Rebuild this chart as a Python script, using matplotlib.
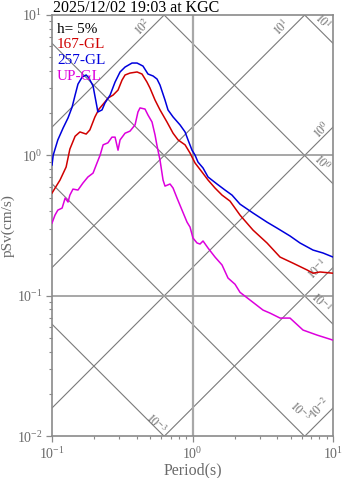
import numpy as np
import matplotlib
matplotlib.use("Agg")
import matplotlib.pyplot as plt
from matplotlib.ticker import LogLocator, NullFormatter

plt.rcParams["font.family"] = "serif"
plt.rcParams["font.serif"] = ["Liberation Serif", "DejaVu Serif"]
plt.rcParams["mathtext.fontset"] = "stix"

# --- data (period in s, pSv in cm/s) ---
title = "2025/12/02 19:03 at KGC"
damping = "h= 5%"

t_257 = [0.100, 0.102, 0.110, 0.120, 0.130, 0.139, 0.146, 0.153, 0.164, 0.175,
         0.183, 0.196, 0.202, 0.209, 0.212, 0.227, 0.238, 0.259, 0.281, 0.305,
         0.331, 0.371, 0.403, 0.444, 0.482, 0.524, 0.559, 0.587, 0.637, 0.669,
         0.727, 0.815, 0.885, 0.929, 0.992, 1.042, 1.094, 1.188, 1.290, 1.494,
         1.704, 1.910, 2.178, 2.696, 3.391, 3.994, 4.943, 5.823, 7.204, 8.488, 10.0]
sv_257 = [0.855, 1.006, 1.29, 1.57, 1.85, 2.21, 2.69, 3.22, 3.62, 3.74,
          3.56, 3.12, 2.65, 2.21, 2.04, 2.11, 2.36, 2.69, 3.33, 3.93,
          4.26, 4.55, 4.55, 4.33, 3.80, 3.68, 3.50, 3.17, 2.48, 2.11,
          1.88, 1.65, 1.47, 1.29, 1.09, 1.006, 0.897, 0.814, 0.702, 0.626,
          0.567, 0.522, 0.450, 0.389, 0.335, 0.304, 0.267, 0.238, 0.212, 0.202, 0.189]

t_167 = [0.100, 0.114, 0.126, 0.134, 0.146, 0.158, 0.175, 0.186, 0.202, 0.216,
         0.238, 0.250, 0.272, 0.295, 0.315, 0.331, 0.359, 0.403, 0.437, 0.474,
         0.498, 0.541, 0.587, 0.658, 0.727, 0.789, 0.885, 0.960, 1.042, 1.168,
         1.290, 1.446, 1.622, 1.849, 2.178, 2.696, 3.391, 4.196, 5.191, 6.531,
         7.204, 8.080, 10.0]
sv_167 = [0.540, 0.668, 0.827, 1.11, 1.37, 1.47, 1.42, 1.52, 1.88, 2.14,
          2.40, 2.56, 2.69, 2.92, 3.44, 3.74, 3.86, 3.93, 3.80, 3.33,
          3.02, 2.48, 2.11, 1.73, 1.44, 1.29, 1.19, 1.04, 0.884, 0.762,
          0.668, 0.586, 0.522, 0.473, 0.376, 0.294, 0.238, 0.189, 0.171, 0.153,
          0.145, 0.148, 0.145]

t_up = [0.100, 0.105, 0.110, 0.118, 0.124, 0.130, 0.134, 0.141, 0.153, 0.166,
        0.180, 0.196, 0.209, 0.220, 0.231, 0.250, 0.267, 0.281, 0.295, 0.305,
        0.331, 0.359, 0.390, 0.409, 0.423, 0.459, 0.482, 0.515, 0.541, 0.559,
        0.587, 0.617, 0.637, 0.692, 0.727, 0.776, 0.842, 0.914, 0.960, 1.008,
        1.077, 1.131, 1.188, 1.290, 1.446, 1.622, 1.789, 2.007, 2.178, 2.567,
        3.177, 3.562, 4.196, 4.943, 6.117, 7.692, 10.0]
sv_up = [0.330, 0.376, 0.408, 0.422, 0.497, 0.466, 0.522, 0.576, 0.567, 0.636,
         0.702, 0.749, 0.884, 1.006, 1.19, 1.23, 1.35, 1.35, 1.09, 1.29,
         1.44, 1.49, 1.65, 2.04, 2.18, 2.14, 1.94, 1.73, 1.40, 1.17,
         0.927, 0.668, 0.605, 0.626, 0.586, 0.497, 0.408, 0.335, 0.309, 0.258,
         0.238, 0.234, 0.246, 0.219, 0.189, 0.166, 0.134, 0.121, 0.106, 0.0934,
         0.0792, 0.0754, 0.0695, 0.0695, 0.0571, 0.0526, 0.0484]

# tripartite grid levels
acc_levels = [1e-2, 1e-1, 1e0, 1e1, 1e2]     # pSa, cm/s^2
disp_levels = [1e-3, 1e-2, 1e-1, 1e0, 1e1]   # Sd, cm

series = [
    ("167-GL", t_167, sv_167, "#d00000"),
    ("257-GL", t_257, sv_257, "#0000dd"),
    ("UP-GL", t_up, sv_up, "#dd00dd"),
]

grey = "#8a8a8a"
txt_grey = "#6a6a6a"

fig = plt.figure(figsize=(3.47, 4.78), dpi=100)
ax = fig.add_axes([0.1499, 0.0872, 0.8098, 0.8814])
ax.set_xscale("log")
ax.set_yscale("log")
ax.set_xlim(0.1, 10)
ax.set_ylim(0.01, 10)

# diagonal lines: constant acceleration and constant displacement
tt = np.array([0.01, 100.0])
for a in acc_levels:
    ax.plot(tt, a * tt / (2 * np.pi), color="#7a7a7a", lw=0.8, zorder=1)
for d in disp_levels:
    ax.plot(tt, 2 * np.pi * d / tt, color="#7a7a7a", lw=0.8, zorder=1)

ax.axvline(1.0, color="#a8a8a8", lw=1.6, zorder=1)
ax.axhline(1.0, color="#909090", lw=1.1, zorder=1)
ax.axhline(0.1, color="#a0a0a0", lw=1.3, zorder=1)

for name, t, sv, c in series:
    ax.plot(t, sv, color=c, lw=1.1, zorder=3)

# labels along the diagonal lines
diag_labels = [
    (0.444, 8.2, r"$10^{2}$", 45),
    (4.34, 8.1, r"$10^{1}$", 45),
    (8.35, 8.9, r"$10^{1}$", -45),
    (8.35, 1.52, r"$10^{0}$", 45),
    (8.35, 0.88, r"$10^{0}$", -45),
    (7.82, 0.153, r"$10^{-1}$", 45),
    (8.08, 0.090, r"$10^{-1}$", -45),
    (0.55, 0.0122, r"$10^{-3}$", -45),
    (5.82, 0.0149, r"$10^{-3}$", -45),
    (8.08, 0.0159, r"$10^{-2}$", 45),
]
for x, y, s, rot in diag_labels:
    ax.text(x, y, s, rotation=rot, rotation_mode="anchor", ha="center",
            va="center", fontsize=8.5, color=txt_grey, zorder=2)

# legend as coloured text
ax.text(0.018, 0.966, damping, transform=ax.transAxes, fontsize=11,
        color="black", va="center", ha="left")
for i, (name, t, sv, c) in enumerate(series):
    ax.text(0.018, 0.929 - 0.037 * i, name, transform=ax.transAxes,
            fontsize=11, color=c, va="center", ha="left")

fig.text(0.1527, 0.984, title, fontsize=11.5, color="black",
         ha="left", va="center")

for sp in ax.spines.values():
    sp.set_color(grey)
    sp.set_linewidth(1.2)

ax.yaxis.set_minor_locator(LogLocator(base=10, subs=np.arange(2, 10)))
ax.xaxis.set_minor_locator(LogLocator(base=10, subs=np.arange(2, 10)))
ax.xaxis.set_minor_formatter(NullFormatter())
ax.yaxis.set_minor_formatter(NullFormatter())
ax.tick_params(which="major", direction="out", length=4, width=0.9,
               color=grey, labelcolor=txt_grey, labelsize=10, pad=3)
ax.tick_params(which="minor", direction="out", length=2.5, width=0.8,
               color=grey)

ax.set_xlabel("Period(s)", fontsize=11.5, color=txt_grey, labelpad=0)
ax.set_ylabel("pSv(cm/s)", fontsize=11, color=txt_grey)
ax.yaxis.set_label_coords(-0.132, 0.5)

fig.savefig("out.png", dpi=100)
